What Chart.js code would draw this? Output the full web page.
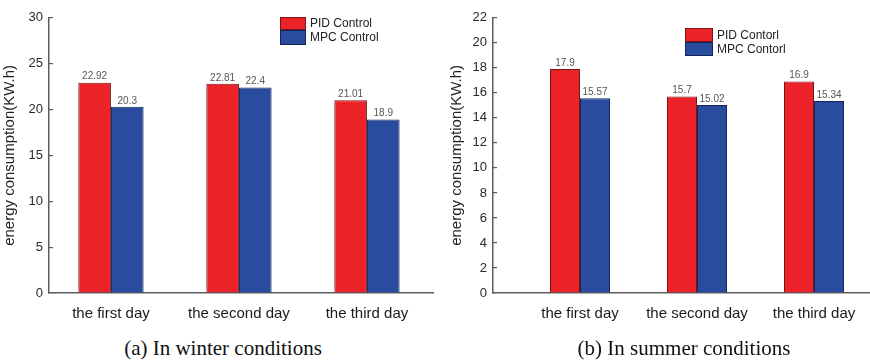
<!DOCTYPE html>
<html><head><meta charset="utf-8">
<script src="https://cdn.jsdelivr.net/npm/chart.js@4.4.0/dist/chart.umd.min.js"></script>
<style>
html,body{margin:0;padding:0;background:#fff;overflow:hidden;width:870px;height:363px}
#wa{position:absolute;left:0;top:0}
#wb{position:absolute;left:435px;top:0}
.cap{position:absolute;top:336px;font-family:"Liberation Serif","Times New Roman",serif;font-size:21px;line-height:24px;color:#111;white-space:nowrap;transform:translateX(-50%)}
</style></head><body>
<canvas id="wa" width="440" height="330"></canvas>
<canvas id="wb" width="435" height="330"></canvas>
<div class="cap" style="left:223px">(a) In winter conditions</div>
<div class="cap" style="left:684px">(b) In summer conditions</div>
<script>
// ---- data ----
const categories = ['the first day', 'the second day', 'the third day'];
const winterPID = [22.92, 22.81, 21.01];
const winterMPC = [20.3, 22.4, 18.9];
const summerPID = [17.9, 15.7, 16.9];
const summerMPC = [15.57, 15.02, 15.34];
const winterSeries = ['PID Control', 'MPC Control'];
const summerSeries = ['PID Contorl', 'MPC Contorl'];
const winterTicks = [0, 5, 10, 15, 20, 25, 30];
const summerTicks = [0, 2, 4, 6, 8, 10, 12, 14, 16, 18, 20, 22];
const yTitle = 'energy consumption(KW.h)';

// ---- styles ----
const RED = '#ec2229', RED_B = '#7a1515';
const BLUE = '#2a4c9e', BLUE_B = '#16245e';
const AXIS = '#5c5c5c';
const FONT = '"Liberation Sans", Arial, sans-serif';

const valueLabels = {
  id: 'valueLabels',
  afterDatasetsDraw(chart) {
    const ctx = chart.ctx;
    ctx.save();
    ctx.font = '10px ' + FONT;
    ctx.fillStyle = '#555';
    ctx.textAlign = 'center';
    ctx.textBaseline = 'bottom';
    chart.data.datasets.forEach((ds, di) => {
      chart.getDatasetMeta(di).data.forEach((el, i) => {
        ctx.fillText(String(ds.data[i].y), el.x, el.y - 1);
      });
    });
    ctx.restore();
  }
};

const boxLegend = {
  id: 'boxLegend',
  afterDraw(chart, args, opts) {
    const ctx = chart.ctx;
    ctx.save();
    ctx.font = '12px ' + FONT;
    ctx.textBaseline = 'middle';
    ctx.textAlign = 'left';
    let y = opts.y;
    chart.data.datasets.forEach((ds, di) => {
      const h = opts.h[di];
      ctx.fillStyle = ds.backgroundColor;
      ctx.fillRect(opts.x, y, opts.w, h);
      ctx.strokeStyle = ds.borderColor;
      ctx.lineWidth = 1;
      ctx.strokeRect(opts.x + 0.5, y + 0.5, opts.w - 1, h - 1);
      ctx.fillStyle = '#222';
      ctx.fillText(ds.label, opts.x + opts.w + 4, y + h / 2 + 0.5);
      y += h;
    });
    ctx.restore();
  }
};

function makeChart(id, pid, mpc, names, yTicks, g) {
  const toPts = arr => arr.map((v, i) => ({ x: i + 1, y: v }));
  return new Chart(document.getElementById(id), {
    type: 'bar',
    data: {
      datasets: [
        { label: names[0], data: toPts(pid), backgroundColor: RED, borderColor: RED_B, borderWidth: 1, borderSkipped: 'bottom' },
        { label: names[1], data: toPts(mpc), backgroundColor: BLUE, borderColor: BLUE_B, borderWidth: 1, borderSkipped: 'bottom' }
      ]
    },
    options: {
      responsive: false,
      animation: false,
      events: [],
      layout: { padding: { left: 0, right: g.padRight, top: g.top, bottom: 0 } },
      datasets: { bar: { barPercentage: 1, categoryPercentage: g.catPct } },
      plugins: {
        legend: { display: false },
        tooltip: { enabled: false },
        boxLegend: g.legend
      },
      scales: {
        x: {
          type: 'linear',
          offset: false,
          grace: 0,
          min: g.xMin, max: g.xMax,
          grid: { display: false, drawTicks: false },
          border: { display: true, color: AXIS, width: 1.5 },
          afterBuildTicks: s => { s.ticks = categories.map((c, i) => ({ value: i + 1 })); },
          afterFit: s => { s.height = 330 - 293; },
          ticks: {
            autoSkip: false, maxRotation: 0, padding: 12,
            color: '#1a1a1a', font: { size: 15, family: FONT },
            callback: v => categories[v - 1]
          }
        },
        y: {
          min: yTicks[0], max: yTicks[yTicks.length - 1],
          grid: { display: true, drawOnChartArea: false, drawTicks: true, tickLength: -4, color: AXIS, lineWidth: 1.2 },
          border: { display: true, color: AXIS, width: 1.5 },
          afterBuildTicks: s => { s.ticks = yTicks.map(v => ({ value: v })); },
          afterFit: s => { s.width = g.yWidth; },
          ticks: { padding: 10, color: '#2a2a2a', font: { size: 13, family: FONT } },
          title: {
            display: true, text: yTitle, color: '#222',
            font: { size: 15, family: FONT }, padding: { top: g.titlePad, bottom: 0 }
          }
        }
      }
    },
    plugins: [valueLabels, boxLegend]
  });
}

makeChart('wa', winterPID, winterMPC, winterSeries, winterTicks, {
  top: 10, padRight: 7, yWidth: 49, xMin: 0.516, xMax: 3.516, catPct: 0.51, titlePad: 1,
  legend: { x: 280, y: 17, w: 26, h: [13, 15] }
});
makeChart('wb', summerPID, summerMPC, summerSeries, summerTicks, {
  top: 15, padRight: 0, yWidth: 58, xMin: 0.2564, xMax: 3.4786, catPct: 0.513, titlePad: 13,
  legend: { x: 250, y: 28, w: 28, h: [14, 14] }
});
</script>
</body></html>
